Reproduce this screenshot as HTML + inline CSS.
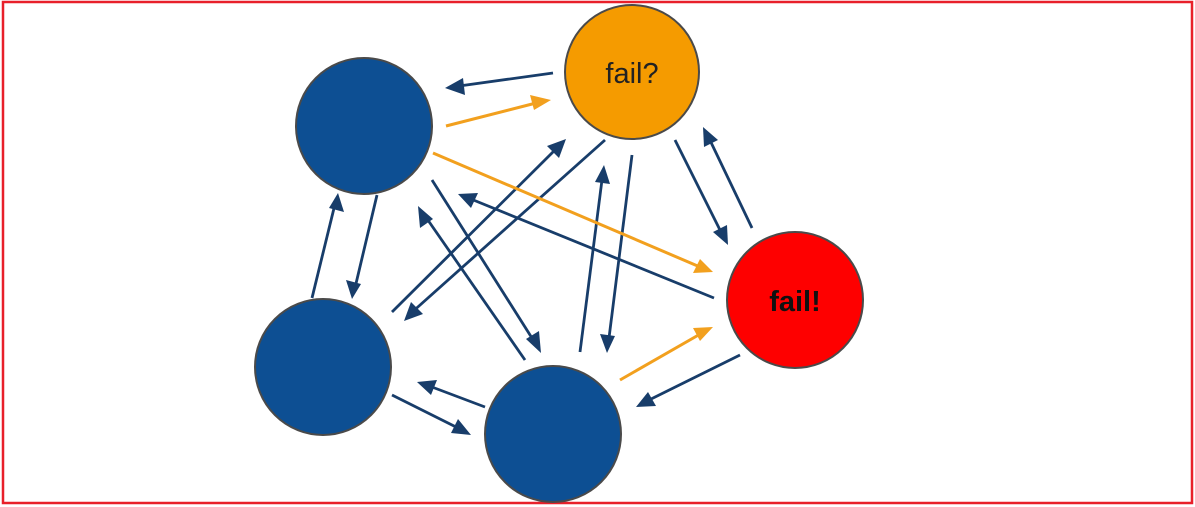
<!DOCTYPE html>
<html><head><meta charset="utf-8"><style>html,body{margin:0;padding:0;background:#fff;width:1195px;height:507px;overflow:hidden}</style></head>
<body>
<svg width="1195" height="507" viewBox="0 0 1195 507" xmlns="http://www.w3.org/2000/svg">
<rect x="3" y="2" width="1189" height="501" fill="none" stroke="#e8202a" stroke-width="2.5"/>
<g stroke="#183d6a" stroke-width="2.8" fill="none">
<path d="M553,73 L452,87"/>
<path d="M605,140 L410,314"/>
<path d="M392,312 L560,145"/>
<path d="M432,180 L537,346"/>
<path d="M525,360 L423,213"/>
<path d="M714,298 L466,197"/>
<path d="M580,352 L603,172"/>
<path d="M632,155 L608,346"/>
<path d="M675,140 L724,238"/>
<path d="M752,228 L707,134"/>
<path d="M740,355 L643,403"/>
<path d="M377,195 L354,292"/>
<path d="M312,298 L336,200"/>
<path d="M392,395 L466,432"/>
<path d="M485,407 L424,384"/>
</g>
<g fill="#183d6a">
<polygon points="445,88 463,78 465,95"/>
<polygon points="404,321 411,302 423,314"/>
<polygon points="566,139 559,158 547,146"/>
<polygon points="541,353 526,339 539,331"/>
<polygon points="418,206 433,219 420,228"/>
<polygon points="458,194 478,193 471,208"/>
<polygon points="604,165 610,184 595,182"/>
<polygon points="607,353 600,334 615,336"/>
<polygon points="728,245 713,232 727,225"/>
<polygon points="703,127 718,140 704,147"/>
<polygon points="636,407 648,392 656,406"/>
<polygon points="352,299 346,280 361,284"/>
<polygon points="338,193 344,212 329,208"/>
<polygon points="471,435 451,433 458,419"/>
<polygon points="417,382 437,380 431,395"/>
</g>
<g stroke="#f2a01e" stroke-width="3" fill="none">
<path d="M446,126 L540,102"/>
<path d="M433,153 L700,267"/>
<path d="M620,380 L702,333"/>
</g>
<g fill="#f2a01e">
<polygon points="551,100 534,110 530,95"/>
<polygon points="713,272 693,273 700,259"/>
<polygon points="713,327 700,341 693,328"/>
</g>
<g stroke="#4a4a4a" stroke-width="2">
<circle cx="364" cy="126" r="68" fill="#0d4f93"/>
<circle cx="632" cy="72" r="67" fill="#f59b00"/>
<circle cx="795" cy="300" r="68" fill="#fe0000"/>
<circle cx="323" cy="367" r="68" fill="#0d4f93"/>
<circle cx="553" cy="434" r="68" fill="#0d4f93"/>
</g>
<text x="632" y="83" font-family="Liberation Sans, sans-serif" font-size="29" text-anchor="middle" fill="#222">fail?</text>
<text x="795" y="311" font-family="Liberation Sans, sans-serif" font-size="29" font-weight="bold" text-anchor="middle" fill="#111">fail!</text>
</svg>
</body></html>
